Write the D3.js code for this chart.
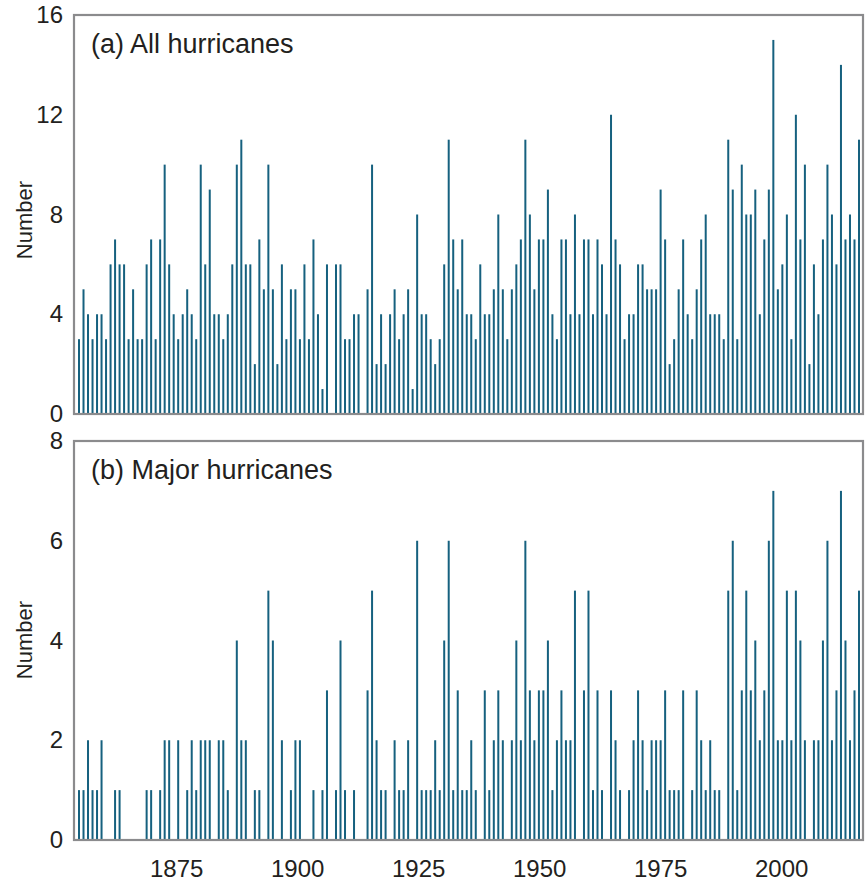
<!DOCTYPE html>
<html>
<head>
<meta charset="utf-8">
<script src="https://cdn.jsdelivr.net/npm/d3@7"></script>
<style>
  html, body { margin: 0; padding: 0; background: #fff; }
  svg { display: block; }
  text { font-family: "Liberation Sans", Arial, sans-serif; fill: #231f20; }
</style>
</head>
<body>
<svg id="chart" width="868" height="888"></svg>
<script>
// ---- Data ----
const firstYear = 1851;
const lastYear = 2024;
const years = d3.range(firstYear, lastYear + 1);

// All hurricanes per year, 1851-2024
const allHurricanes = [
  3,5,4,3,4,4,3,6,7,6,      // 1851-1860
  6,3,5,3,3,6,7,3,7,10,     // 1861-1870
  6,4,3,4,5,4,3,10,6,9,     // 1871-1880
  4,4,3,4,6,10,11,6,6,2,    // 1881-1890
  7,5,10,5,2,6,3,5,5,3,     // 1891-1900
  6,3,7,4,1,6,0,6,6,3,      // 1901-1910
  3,4,4,0,5,10,2,4,2,4,     // 1911-1920
  5,3,4,5,1,8,4,4,3,2,      // 1921-1930
  3,6,11,7,5,7,4,4,3,6,     // 1931-1940
  4,4,5,8,5,3,5,6,7,11,     // 1941-1950
  8,5,7,7,9,4,3,7,7,4,      // 1951-1960
  8,4,7,7,4,7,6,4,12,7,     // 1961-1970
  6,3,4,4,6,6,5,5,5,9,      // 1971-1980
  7,2,3,5,7,4,3,5,7,8,      // 1981-1990
  4,4,4,3,11,9,3,10,8,8,    // 1991-2000
  9,4,7,9,15,5,6,8,3,12,    // 2001-2010
  7,10,2,6,4,7,10,8,6,14,   // 2011-2020
  7,8,7,11                  // 2021-2024
];

// Major hurricanes per year, 1851-2024
const majorHurricanes = [
  1,1,2,1,1,2,0,0,1,1,      // 1851-1860
  0,0,0,0,0,1,1,0,1,2,      // 1861-1870
  2,0,2,0,1,2,1,2,2,2,      // 1871-1880
  0,2,2,1,0,4,2,2,0,1,      // 1881-1890
  1,0,5,4,0,2,0,1,2,2,      // 1891-1900
  0,0,1,0,1,3,0,1,4,1,      // 1901-1910
  0,1,0,0,3,5,2,1,1,0,      // 1911-1920
  2,1,1,2,0,6,1,1,1,2,      // 1921-1930
  1,4,6,1,3,1,1,2,1,0,      // 1931-1940
  3,1,2,3,2,0,2,4,2,6,      // 1941-1950
  3,2,3,3,4,1,2,3,2,2,      // 1951-1960
  5,0,3,5,1,3,1,0,3,2,      // 1961-1970
  1,0,1,2,3,2,1,2,2,2,      // 1971-1980
  3,1,1,1,3,0,1,3,2,1,      // 1981-1990
  2,1,1,0,5,6,1,3,5,3,      // 1991-2000
  4,2,3,6,7,2,2,5,2,5,      // 2001-2010
  4,2,0,2,2,4,6,2,3,7,      // 2011-2020
  4,2,3,5                   // 2021-2024
];

const tickYears = [1875, 1900, 1925, 1950, 1975, 2000];
const axisYearSpan = [1853.9, 2016.9];   // year span of the printed year axis
const panelTitles = ["(a) All hurricanes", "(b) Major hurricanes"];
const yTicksTop = [0, 4, 8, 12, 16];
const yTicksBottom = [0, 2, 4, 6, 8];
const yLabel = "Number";

// ---- Layout ----
const svg = d3.select("#chart");
const frameLeft = 74, frameRight = 863;
const barColor = "#16617f";
const frameColor = "#8b8b8d";

const xBar = d3.scaleLinear().domain([firstYear, lastYear]).range([79, 859]);
const xAxisScale = d3.scaleLinear().domain(axisYearSpan).range([frameLeft, frameRight]);

const panels = [
  { title: panelTitles[0], values: allHurricanes, top: 15, bottom: 414, max: 16, ticks: yTicksTop, labelY: 220 },
  { title: panelTitles[1], values: majorHurricanes, top: 441, bottom: 840, max: 8, ticks: yTicksBottom, labelY: 640 }
];

panels.forEach(p => {
  const y = d3.scaleLinear().domain([0, p.max]).range([p.bottom, p.top]);
  const g = svg.append("g");

  // bars
  g.selectAll("rect.bar")
    .data(years.map((yr, i) => ({ yr, v: p.values[i] })).filter(d => d.v > 0))
    .join("rect")
    .attr("class", "bar")
    .attr("x", d => xBar(d.yr) - 1)
    .attr("width", 2)
    .attr("y", d => y(d.v))
    .attr("height", d => y(0) - y(d.v))
    .attr("fill", barColor);

  // frame
  g.append("rect")
    .attr("x", frameLeft).attr("y", p.top)
    .attr("width", frameRight - frameLeft).attr("height", p.bottom - p.top)
    .attr("fill", "none")
    .attr("stroke", frameColor)
    .attr("stroke-width", 2.2);

  // y axis (labels only)
  const yAxis = d3.axisLeft(y).tickValues(p.ticks).tickSize(0).tickPadding(11)
    .tickFormat(d3.format("d"));
  const ya = g.append("g").attr("transform", `translate(${frameLeft},0)`).call(yAxis);
  ya.select(".domain").remove();
  ya.selectAll("text")
    .attr("font-size", 24)
    .attr("font-family", '"Liberation Sans", Arial, sans-serif')
    .attr("fill", "#231f20");

  // y label
  g.append("text")
    .attr("transform", `translate(32,${p.labelY}) rotate(-90)`)
    .attr("text-anchor", "middle")
    .attr("font-size", 22)
    .text(yLabel);

  // panel title
  g.append("text")
    .attr("x", 91)
    .attr("y", p.top + 38)
    .attr("font-size", 27)
    .text(p.title);
});

// x axis (labels only)
const xAxis = d3.axisBottom(xAxisScale).tickValues(tickYears).tickSize(0).tickPadding(0)
  .tickFormat(d3.format("d"));
const xa = svg.append("g").attr("transform", "translate(0,859)").call(xAxis);
xa.select(".domain").remove();
xa.selectAll("text")
  .attr("font-size", 24)
  .attr("font-family", '"Liberation Sans", Arial, sans-serif')
  .attr("fill", "#231f20")
  .attr("dy", "0.75em");
</script>
</body>
</html>
